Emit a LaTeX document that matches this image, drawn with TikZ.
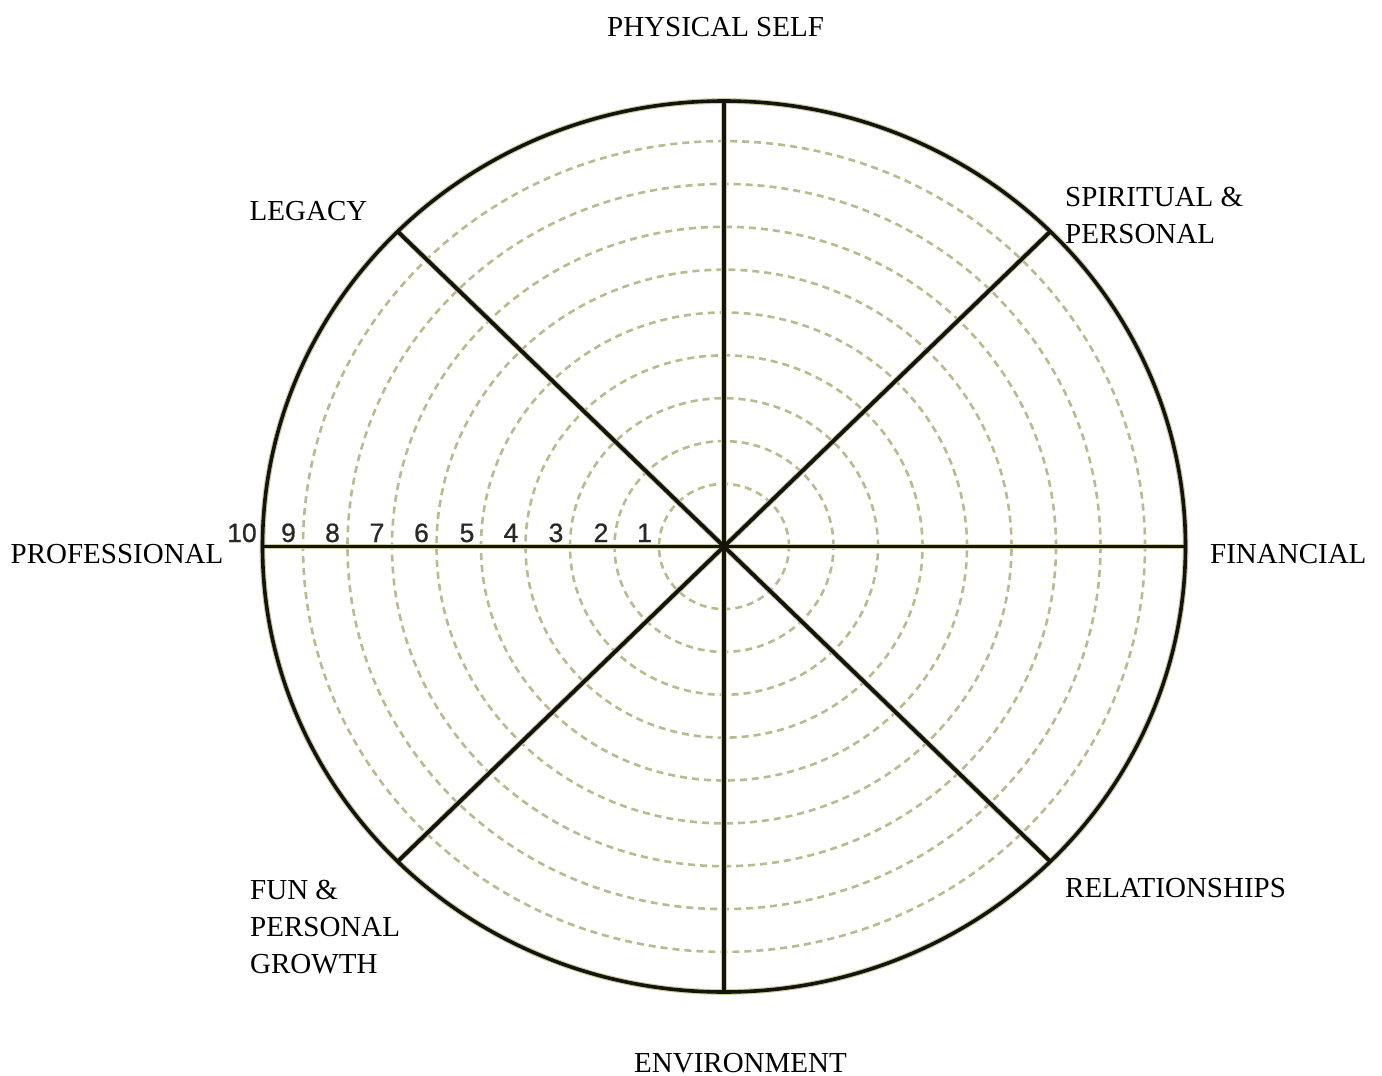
\documentclass[tikz,border=0pt]{standalone}
\usepackage{fontspec}
\usetikzlibrary{calc}
\setmainfont{Liberation Serif}
\newfontfamily\numfont[FakeBold=0.8]{Liberation Sans}
\definecolor{ringc}{RGB}{186,186,142}
\definecolor{halo}{RGB}{205,205,170}
\definecolor{inkc}{RGB}{20,20,12}
\definecolor{numc}{RGB}{40,40,36}
\tikzset{
  ringline/.style={draw=ringc, line width=2.6pt, dash pattern=on 7pt off 5pt},
  rimline/.style={draw=inkc, line width=3.6pt},
  spokeline/.style={draw=inkc, line width=3.9pt},
  halol/.style={draw=halo, line width=5.8pt},
  catlabel/.style={inner sep=0pt, font=\fontsize{29}{37}\selectfont, text=black},
  numlabel/.style={inner sep=0pt, anchor=base, font=\numfont\fontsize{26.5}{30}\selectfont, text=numc}
}
\begin{document}
\begin{tikzpicture}[x=1pt,y=-1pt]
\useasboundingbox[fill=white] (0,0) rectangle (1382,1076);
\coordinate (c) at (724,546.5);
% dashed rings
\foreach \k in {1,...,9}{
  \pgfmathsetmacro{\rx}{20.5+44.5*\k}
  \pgfmathsetmacro{\ry}{0.963*\rx}
  \draw[ringline] (c) ellipse [x radius=\rx pt, y radius=\ry pt];
}
% rim points
\foreach \n/\a in {e/0,ne/45,n/90,nw/135,w/180,sw/225,s/270,se/315}{
  \coordinate (r\n) at ($(c)+({461.5*cos(\a)},{-445.5*sin(\a)})$);
}
% halos
\draw[halol] (c) ellipse [x radius=461.5pt, y radius=445.5pt];
\foreach \n in {e,ne,n,nw,w,sw,s,se}{ \draw[halol] (c) -- (r\n); }
% outer rim
\draw[rimline] (c) ellipse [x radius=461.5pt, y radius=445.5pt];
% spokes
\foreach \n in {e,ne,n,nw,w,sw,s,se}{ \draw[spokeline] (c) -- (r\n); }
% scale numbers
\node[numlabel] (n10) at (242,542) {10};
\node[numlabel] (n9) at (288.5,542) {9};
\node[numlabel] (n8) at (332.5,542) {8};
\node[numlabel] (n7) at (377,542) {7};
\node[numlabel] (n6) at (421.5,542) {6};
\node[numlabel] (n5) at (467,542) {5};
\node[numlabel] (n4) at (511,542) {4};
\node[numlabel] (n3) at (556,542) {3};
\node[numlabel] (n2) at (601,542) {2};
\node[numlabel] (n1) at (644.5,542) {1};
% category labels
\node[catlabel, anchor=base west] (phys) at (607,36) {PHYSICAL SELF};
\node[catlabel, anchor=north west, align=left] (spir) at (1065,187) {SPIRITUAL \&\\PERSONAL};
\node[catlabel, anchor=base west] (legacy) at (249.5,220) {LEGACY};
\node[catlabel, anchor=base west] (prof) at (10.5,563) {PROFESSIONAL};
\node[catlabel, anchor=base west] (fin) at (1210,563) {FINANCIAL};
\node[catlabel, anchor=base west] (rel) at (1065,897) {RELATIONSHIPS};
\node[catlabel, anchor=north west, align=left] (fun) at (250,880) {FUN \&\\PERSONAL\\GROWTH};
\node[catlabel, anchor=base west] (env) at (634,1072) {ENVIRONMENT};
\end{tikzpicture}
\end{document}
